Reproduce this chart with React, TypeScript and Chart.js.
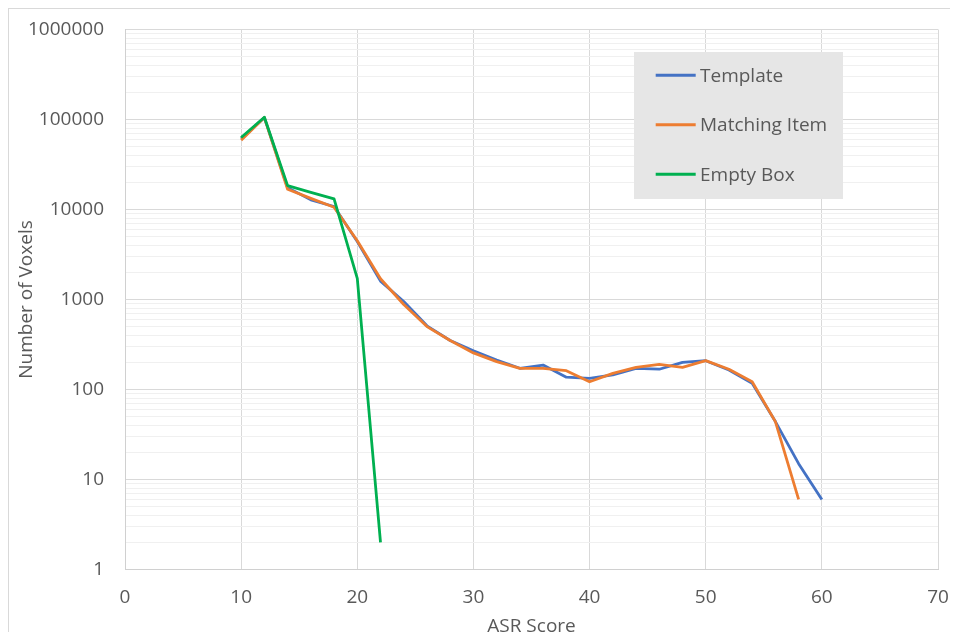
import React, { useEffect, useRef } from "react";
import { Chart, registerables } from "chart.js";

Chart.register(...registerables);

// ---- data ----
const scoresTemplate = [10, 12, 14, 16, 18, 20, 22, 24, 26, 28, 30, 32, 34, 36, 38, 40, 42, 44, 46, 48, 50, 52, 54, 56, 58, 60];
const templateValues = [61000, 105000, 17500, 12800, 10800, 4400, 1600, 950, 510, 350, 270, 213, 172, 187, 137, 133, 145, 172, 168, 200, 209, 165, 117, 44, 15, 6];

const scoresMatching = [10, 12, 14, 16, 18, 20, 22, 24, 26, 28, 30, 32, 34, 36, 38, 40, 42, 44, 46, 48, 50, 52, 54, 56, 58];
const matchingValues = [59000, 105000, 16800, 13300, 10600, 4500, 1700, 880, 500, 350, 255, 204, 172, 172, 162, 122, 151, 176, 190, 176, 209, 168, 122, 44, 6];

const scoresEmpty = [10, 12, 14, 16, 18, 20, 22];
const emptyValues = [63000, 106000, 18400, 15500, 13100, 1720, 2];

const seriesLabels = ["Template", "Matching Item", "Empty Box"];
const seriesColors = ["#4472C4", "#ED7D31", "#00B050"];

const xTickValues = [0, 10, 20, 30, 40, 50, 60, 70];
const yMajorTicks = [1, 10, 100, 1000, 10000, 100000, 1000000];
const yMinorMultipliers = [2, 3, 4, 5, 6, 7, 8, 9];

const xTitle = "ASR Score";
const yTitle = "Number of Voxels";

const FONT = "'Open Sans', sans-serif";
const TEXT = "#595959";

const toPoints = (xs: number[], ys: number[]) => xs.map((x, i) => ({ x, y: ys[i] }));

const insetLegend = {
  id: "insetLegend",
  afterDraw(chart: any) {
    const { ctx, chartArea } = chart;
    const bx = chartArea.left + 509;
    const by = chartArea.top + 22.5;
    const bw = 209;
    const bh = 147;
    ctx.save();
    ctx.fillStyle = "#e6e6e6";
    ctx.fillRect(bx, by, bw, bh);
    ctx.font = `19px ${FONT}`;
    ctx.textBaseline = "middle";
    ctx.textAlign = "left";
    chart.data.datasets.forEach((ds: any, i: number) => {
      const y = by + 23.3 + i * 49.5;
      ctx.strokeStyle = ds.borderColor;
      ctx.lineWidth = 3;
      ctx.beginPath();
      ctx.moveTo(bx + 21.7, y);
      ctx.lineTo(bx + 61.7, y);
      ctx.stroke();
      ctx.fillStyle = TEXT;
      ctx.fillText(ds.label, bx + 66, y + 1);
    });
    ctx.restore();
  },
};

export default function App() {
  const canvasRef = useRef<HTMLCanvasElement | null>(null);

  useEffect(() => {
    if (!canvasRef.current) return;
    const yAllTicks: number[] = [];
    yMajorTicks.forEach((m, i) => {
      yAllTicks.push(m);
      if (i < yMajorTicks.length - 1) yMinorMultipliers.forEach((k) => yAllTicks.push(m * k));
    });
    yAllTicks.sort((a, b) => a - b);

    const chart = new Chart(canvasRef.current, {
      type: "line",
      data: {
        datasets: [
          { label: seriesLabels[0], data: toPoints(scoresTemplate, templateValues), borderColor: seriesColors[0], backgroundColor: seriesColors[0], order: 2 },
          { label: seriesLabels[1], data: toPoints(scoresMatching, matchingValues), borderColor: seriesColors[1], backgroundColor: seriesColors[1], order: 1 },
          { label: seriesLabels[2], data: toPoints(scoresEmpty, emptyValues), borderColor: seriesColors[2], backgroundColor: seriesColors[2], order: 0 },
        ],
      },
      options: {
        animation: false,
        responsive: false,
        devicePixelRatio: 1,
        layout: { padding: { top: 21.5, right: 20, left: 0, bottom: 0 } },
        elements: {
          point: { radius: 0, hoverRadius: 0 },
          line: { borderWidth: 2.8, tension: 0, borderCapStyle: "butt", borderJoinStyle: "round" },
        },
        plugins: {
          legend: { display: false },
          tooltip: { enabled: false },
        },
        scales: {
          x: {
            type: "linear",
            min: xTickValues[0],
            max: xTickValues[xTickValues.length - 1],
            afterBuildTicks: (scale: any) => {
              scale.ticks = xTickValues.map((v) => ({ value: v }));
            },
            afterFit: (scale: any) => {
              scale.height = 70.5;
              scale.paddingLeft = 0;
              scale.paddingRight = 0;
            },
            grid: { color: "#d9d9d9", lineWidth: 1, drawTicks: false },
            border: { color: "#d0d0d0", width: 1 },
            ticks: { color: TEXT, font: { family: FONT, size: 19 }, padding: 17, maxRotation: 0, autoSkip: false },
            title: { display: true, text: xTitle, color: TEXT, font: { family: FONT, size: 19 }, padding: { top: 0, bottom: 2 } },
          },
          y: {
            type: "logarithmic",
            min: yMajorTicks[0],
            max: yMajorTicks[yMajorTicks.length - 1],
            afterBuildTicks: (scale: any) => {
              scale.ticks = yAllTicks.map((v) => ({ value: v, major: yMajorTicks.includes(v) }));
            },
            afterFit: (scale: any) => {
              scale.width = 117;
              scale.paddingTop = 0;
              scale.paddingBottom = 0;
            },
            grid: {
              drawTicks: false,
              lineWidth: 1,
              color: (ctx: any) => (ctx.tick && yMajorTicks.includes(ctx.tick.value) ? "#d9d9d9" : "#f0f0f0"),
            },
            border: { color: "#d0d0d0", width: 1 },
            ticks: {
              color: TEXT,
              font: { family: FONT, size: 19 },
              padding: 21,
              autoSkip: false,
              callback: (v: any) => (yMajorTicks.includes(Number(v)) ? String(v) : ""),
            },
            title: { display: true, text: yTitle, color: TEXT, font: { family: FONT, size: 19 }, padding: { top: 7.3, bottom: 0 } },
          },
        },
      },
      plugins: [insetLegend],
    } as any);
    return () => chart.destroy();
  }, []);

  return (
    <div style={{ position: "relative", width: 950, height: 632, marginBottom: -8, overflow: "hidden" }}>
      <canvas ref={canvasRef} width={950} height={632} style={{ display: "block", width: 950, height: 632 }} />
      <div
        style={{
          position: "absolute",
          left: 0,
          top: 0,
          width: 1000,
          height: 700,
          border: "1px solid #d9d9d9",
          pointerEvents: "none",
        }}
      />
    </div>
  );
}
